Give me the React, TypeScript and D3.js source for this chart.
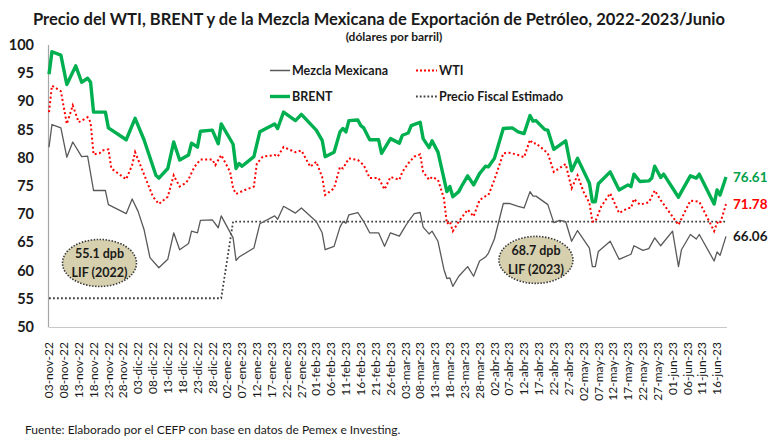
import React from "react";
import * as d3 from "d3";

const tickLabels = [
  "03-nov-22","08-nov-22","13-nov-22","18-nov-22","23-nov-22","28-nov-22",
  "03-dic-22","08-dic-22","13-dic-22","18-dic-22","23-dic-22","28-dic-22",
  "02-ene-23","07-ene-23","12-ene-23","17-ene-23","22-ene-23","27-ene-23",
  "01-feb-23","06-feb-23","11-feb-23","16-feb-23","21-feb-23","26-feb-23",
  "03-mar-23","08-mar-23","13-mar-23","18-mar-23","23-mar-23","28-mar-23",
  "02-abr-23","07-abr-23","12-abr-23","17-abr-23","22-abr-23","27-abr-23",
  "02-may-23","07-may-23","12-may-23","17-may-23","22-may-23","27-may-23",
  "01-jun-23","06-jun-23","11-jun-23","16-jun-23",
];
const yTicks = [50, 55, 60, 65, 70, 75, 80, 85, 90, 95, 100];

const brent: [string, number][] = [
  ["2022-11-03",94.8],["2022-11-04",98.8],["2022-11-07",98.2],["2022-11-09",93.0],["2022-11-12",96.3],
  ["2022-11-14",93.4],["2022-11-16",94.1],["2022-11-17",93.4],["2022-11-18",88.1],["2022-11-22",88.1],
  ["2022-11-23",85.3],["2022-11-29",83.2],["2022-12-02",87.0],["2022-12-05",83.2],["2022-12-09",76.9],
  ["2022-12-10",76.4],["2022-12-13",78.1],["2022-12-15",82.8],["2022-12-17",79.6],["2022-12-20",80.5],
  ["2022-12-21",82.6],["2022-12-23",81.9],["2022-12-24",84.7],["2022-12-28",84.9],["2022-12-30",82.5],
  ["2022-12-31",86.0],["2023-01-04",82.4],["2023-01-05",78.1],["2023-01-06",79.0],["2023-01-07",78.5],
  ["2023-01-11",80.2],["2023-01-13",84.6],["2023-01-18",86.0],["2023-01-19",85.2],["2023-01-21",88.1],
  ["2023-01-25",86.6],["2023-01-27",87.7],["2023-02-01",84.9],["2023-02-03",83.1],["2023-02-04",80.2],
  ["2023-02-07",81.0],["2023-02-09",84.6],["2023-02-10",85.2],["2023-02-11",84.6],["2023-02-12",86.6],
  ["2023-02-15",86.7],["2023-02-16",85.7],["2023-02-17",85.3],["2023-02-19",83.2],["2023-02-22",83.2],
  ["2023-02-23",80.8],["2023-02-26",83.4],["2023-03-01",82.6],["2023-03-02",84.0],["2023-03-04",84.4],
  ["2023-03-05",85.7],["2023-03-07",86.1],["2023-03-08",86.3],["2023-03-09",83.4],["2023-03-11",81.8],
  ["2023-03-12",83.0],["2023-03-14",81.0],["2023-03-17",74.0],["2023-03-18",74.9],["2023-03-19",73.1],
  ["2023-03-21",74.0],["2023-03-22",75.0],["2023-03-24",76.8],["2023-03-26",75.2],["2023-03-28",77.2],
  ["2023-03-30",78.5],["2023-03-31",78.4],["2023-04-02",79.9],["2023-04-05",85.2],["2023-04-08",85.3],
  ["2023-04-10",84.6],["2023-04-12",84.3],["2023-04-14",87.5],["2023-04-15",86.5],["2023-04-16",86.6],
  ["2023-04-19",85.0],["2023-04-20",84.9],["2023-04-22",81.5],["2023-04-26",83.0],["2023-04-28",77.7],
  ["2023-04-30",79.9],["2023-05-04",75.5],["2023-05-05",72.2],["2023-05-06",72.2],["2023-05-07",75.4],
  ["2023-05-11",77.5],["2023-05-14",74.3],["2023-05-17",75.2],["2023-05-18",74.9],["2023-05-19",77.1],
  ["2023-05-21",75.8],["2023-05-24",75.9],["2023-05-25",76.4],["2023-05-26",78.5],["2023-05-28",76.5],
  ["2023-05-29",77.1],["2023-06-03",73.0],["2023-06-04",74.0],["2023-06-07",76.8],["2023-06-09",76.4],
  ["2023-06-10",77.1],["2023-06-15",71.8],["2023-06-16",74.3],["2023-06-17",73.4],["2023-06-19",76.61],
];

const wti: [string, number][] = [
  ["2022-11-03",88.1],["2022-11-04",92.8],["2022-11-07",91.8],["2022-11-09",86.0],["2022-11-11",89.3],
  ["2022-11-13",86.3],["2022-11-16",87.2],["2022-11-17",86.3],["2022-11-18",80.6],["2022-11-20",80.8],
  ["2022-11-21",81.3],["2022-11-23",81.5],["2022-11-24",78.1],["2022-11-29",76.2],["2022-12-01",78.7],
  ["2022-12-02",81.0],["2022-12-04",78.4],["2022-12-08",73.1],["2022-12-10",71.8],["2022-12-13",73.1],
  ["2022-12-15",76.9],["2022-12-17",74.9],["2022-12-19",75.5],["2022-12-20",76.2],["2022-12-22",78.4],
  ["2022-12-24",79.7],["2022-12-28",79.7],["2022-12-29",78.7],["2022-12-31",80.5],["2023-01-03",77.5],
  ["2023-01-04",74.6],["2023-01-05",73.6],["2023-01-08",74.3],["2023-01-11",74.9],["2023-01-12",79.0],
  ["2023-01-14",80.2],["2023-01-18",80.5],["2023-01-19",80.2],["2023-01-21",81.9],["2023-01-25",81.0],
  ["2023-01-27",81.3],["2023-01-30",78.4],["2023-02-01",79.3],["2023-02-03",76.6],["2023-02-04",73.4],
  ["2023-02-07",74.6],["2023-02-09",78.4],["2023-02-10",78.1],["2023-02-12",79.9],["2023-02-15",79.6],
  ["2023-02-17",78.7],["2023-02-19",76.4],["2023-02-22",76.4],["2023-02-24",74.4],["2023-02-26",76.6],
  ["2023-03-01",76.1],["2023-03-02",77.5],["2023-03-04",79.0],["2023-03-06",80.2],["2023-03-08",80.6],
  ["2023-03-09",77.5],["2023-03-11",76.1],["2023-03-12",76.6],["2023-03-14",76.1],["2023-03-16",72.8],
  ["2023-03-17",68.3],["2023-03-18",68.7],["2023-03-19",67.0],["2023-03-21",68.7],["2023-03-24",70.8],
  ["2023-03-26",69.6],["2023-03-28",72.5],["2023-03-30",73.2],["2023-03-31",73.4],["2023-04-02",76.1],
  ["2023-04-05",80.8],["2023-04-07",80.9],["2023-04-10",80.5],["2023-04-12",80.1],["2023-04-14",83.2],
  ["2023-04-15",82.5],["2023-04-16",82.6],["2023-04-20",80.8],["2023-04-22",77.5],["2023-04-26",78.9],
  ["2023-04-28",74.6],["2023-04-30",76.9],["2023-05-02",74.0],["2023-05-04",72.0],["2023-05-05",68.7],
  ["2023-05-06",68.7],["2023-05-08",71.4],["2023-05-11",73.7],["2023-05-14",70.2],["2023-05-17",71.1],
  ["2023-05-18",71.1],["2023-05-19",72.7],["2023-05-21",71.7],["2023-05-24",72.1],["2023-05-26",74.2],
  ["2023-05-28",72.5],["2023-06-03",68.1],["2023-06-07",72.4],["2023-06-10",72.2],["2023-06-15",67.0],
  ["2023-06-16",68.5],["2023-06-17",68.3],["2023-06-19",71.78],
];

const mezcla: [string, number][] = [
  ["2022-11-03",81.9],["2022-11-04",85.9],["2022-11-07",85.3],["2022-11-09",80.1],["2022-11-11",82.8],
  ["2022-11-14",80.2],["2022-11-16",80.3],["2022-11-18",74.2],["2022-11-22",74.2],["2022-11-23",71.7],
  ["2022-11-29",70.1],["2022-12-01",72.7],["2022-12-03",70.5],["2022-12-05",67.3],["2022-12-07",62.3],
  ["2022-12-10",60.5],["2022-12-13",62.0],["2022-12-15",66.7],["2022-12-17",63.7],["2022-12-20",64.8],
  ["2022-12-21",67.0],["2022-12-23",66.7],["2022-12-24",68.9],["2022-12-28",69.0],["2022-12-30",67.6],
  ["2022-12-31",69.7],["2023-01-04",65.8],["2023-01-05",61.8],["2023-01-06",62.4],["2023-01-11",64.0],
  ["2023-01-13",68.3],["2023-01-18",69.7],["2023-01-19",69.1],["2023-01-21",71.4],["2023-01-25",70.2],
  ["2023-01-27",71.1],["2023-02-01",68.7],["2023-02-03",66.7],["2023-02-04",63.7],["2023-02-07",64.3],
  ["2023-02-09",67.7],["2023-02-10",68.7],["2023-02-11",68.4],["2023-02-12",69.9],["2023-02-15",70.3],
  ["2023-02-17",68.7],["2023-02-19",66.7],["2023-02-22",66.7],["2023-02-24",64.3],["2023-02-26",66.7],
  ["2023-03-01",66.1],["2023-03-02",67.0],["2023-03-04",68.7],["2023-03-06",70.1],["2023-03-08",70.3],
  ["2023-03-09",67.7],["2023-03-11",66.5],["2023-03-12",67.0],["2023-03-14",65.2],["2023-03-16",60.2],
  ["2023-03-17",58.6],["2023-03-18",58.7],["2023-03-19",57.2],["2023-03-21",59.0],["2023-03-24",60.7],
  ["2023-03-26",59.0],["2023-03-28",61.7],["2023-03-30",62.4],["2023-03-31",63.1],["2023-04-02",65.6],
  ["2023-04-05",71.9],["2023-04-07",71.9],["2023-04-10",71.4],["2023-04-12",71.1],["2023-04-14",74.0],
  ["2023-04-15",73.2],["2023-04-16",73.2],["2023-04-20",71.7],["2023-04-22",68.5],["2023-04-24",68.9],
  ["2023-04-26",68.7],["2023-04-28",65.2],["2023-04-30",67.1],["2023-05-04",64.0],["2023-05-05",60.7],
  ["2023-05-06",60.7],["2023-05-07",63.4],["2023-05-11",65.2],["2023-05-14",62.0],["2023-05-18",62.9],
  ["2023-05-19",64.4],["2023-05-22",63.6],["2023-05-24",63.9],["2023-05-26",65.8],["2023-05-28",64.4],
  ["2023-06-01",67.0],["2023-06-03",60.7],["2023-06-04",63.7],["2023-06-07",66.4],["2023-06-09",65.6],
  ["2023-06-10",66.4],["2023-06-15",61.7],["2023-06-16",63.3],["2023-06-17",62.7],["2023-06-19",66.06],
];

const precioFiscal: [string, number][] = [
  ["2022-11-03",55.1],["2022-12-31",55.1],["2023-01-04",68.7],["2023-06-19",68.7],
];

const endLabels = [
  { text: "76.61", value: 76.61, color: "#00A04A" },
  { text: "71.78", value: 71.78, color: "#FF0000" },
  { text: "66.06", value: 66.06, color: "#1a1a1a" },
];

const annotations = [
  { date: "2022-11-20", value: 61.35, line1: "55.1 dpb", line2: "LIF (2022)" },
  { date: "2023-04-16", value: 61.9, line1: "68.7 dpb", line2: "LIF (2023)" },
];

const monthMap: Record<string, number> = { ene: 0, feb: 1, mar: 2, abr: 3, may: 4, jun: 5, jul: 6, ago: 7, sep: 8, oct: 9, nov: 10, dic: 11 };
const parseLabel = (s: string) => {
  const [dd, mm, yy] = s.split("-");
  return new Date(2000 + +yy, monthMap[mm], +dd);
};
const parseISO = d3.timeParse("%Y-%m-%d");

const FONT = "Lato, 'Open Sans', sans-serif";

export default function App() {
  const W = 768, H = 437;
  const x = d3.scaleTime()
    .domain([parseISO("2022-11-03") as Date, parseISO("2023-06-19") as Date])
    .range([49, 726]);
  const y = d3.scaleLinear().domain([50, 100]).range([327, 45]);
  const line = d3.line<[string, number]>()
    .x((d) => x(parseISO(d[0]) as Date))
    .y((d) => y(d[1]));

  return (
    <svg width={W} height={H} style={{ position: "absolute", left: 0, top: 0, background: "#fff" }} fontFamily={FONT}>
      <rect width={W} height={H} fill="#fff" />
      <text x={379} y={25} textAnchor="middle" fontSize={17} fontWeight={700} fill="#1a1a1a" textLength={692} lengthAdjust="spacingAndGlyphs">
        Precio del WTI, BRENT y de la Mezcla Mexicana de Exportación de Petróleo, 2022-2023/Junio
      </text>
      <text x={394} y={41} textAnchor="middle" fontSize={12} fontWeight={700} fill="#1a1a1a">(dólares por barril)</text>

      {/* axes */}
      <line x1={48.5} x2={48.5} y1={45} y2={327} stroke="#a6a6a6" strokeWidth={1.2} />
      <line x1={48.5} x2={727} y1={327.5} y2={327.5} stroke="#c8c8c8" strokeWidth={1.2} />
      {yTicks.map((t) => (
        <text key={t} x={34} y={y(t)} dy="0.35em" textAnchor="end" fontSize={14.5} fontWeight={700} fill="#1a1a1a">{t}</text>
      ))}
      {tickLabels.map((l) => {
        const xp = x(parseLabel(l));
        return (
          <text key={l} transform={`translate(${xp},342) rotate(-90)`} dy="0.35em" textAnchor="end" fontSize={12} fill="#1a1a1a">{l}</text>
        );
      })}

      {/* series */}
      <path d={line(precioFiscal) || ""} fill="none" stroke="#404040" strokeWidth={1.8} strokeDasharray="1.8 2.2" />
      <path d={line(mezcla) || ""} fill="none" stroke="#595959" strokeWidth={1.3} strokeLinejoin="round" />
      <path d={line(wti) || ""} fill="none" stroke="#FF0000" strokeWidth={2} strokeDasharray="2 2.5" />
      <path d={line(brent) || ""} fill="none" stroke="#00B050" strokeWidth={3.4} strokeLinejoin="round" />

      {/* annotations */}
      {annotations.map((a) => {
        const cx = x(parseISO(a.date) as Date), cy = y(a.value);
        return (
          <g key={a.line1}>
            <ellipse cx={cx} cy={cy} rx={37} ry={23.5} fill="#D6D0AE" stroke="#3a3a3a" strokeWidth={1.6} strokeDasharray="1.5 1.5" />
            <text x={cx} y={cy - 5} textAnchor="middle" fontSize={12.5} fontWeight={700} fill="#1a1a1a">{a.line1}</text>
            <text x={cx} y={cy + 14} textAnchor="middle" fontSize={12.5} fontWeight={700} fill="#1a1a1a">{a.line2}</text>
          </g>
        );
      })}

      {/* end labels */}
      {endLabels.map((e) => (
        <text key={e.text} x={733} y={y(e.value)} dy="0.35em" fontSize={13.5} fontWeight={700} fill={e.color}>{e.text}</text>
      ))}

      {/* legend */}
      <g fontSize={12.5} fontWeight={700} fill="#1a1a1a">
        <line x1={270} x2={290} y1={70.5} y2={70.5} stroke="#595959" strokeWidth={1.5} />
        <text x={292} y={70.5} dy="0.35em">Mezcla Mexicana</text>
        <line x1={416} x2={437} y1={70.5} y2={70.5} stroke="#FF0000" strokeWidth={2} strokeDasharray="2 2" />
        <text x={439} y={70.5} dy="0.35em">WTI</text>
        <line x1={270} x2={290} y1={96.5} y2={96.5} stroke="#00B050" strokeWidth={3.4} />
        <text x={292} y={96.5} dy="0.35em">BRENT</text>
        <line x1={416} x2={437} y1={96.5} y2={96.5} stroke="#404040" strokeWidth={1.8} strokeDasharray="1.8 2" />
        <text x={439} y={96.5} dy="0.35em">Precio Fiscal Estimado</text>
      </g>

      <text x={25} y={434} fontSize={12} fill="#1a1a1a">Fuente: Elaborado por el CEFP con base en datos de Pemex e Investing.</text>
    </svg>
  );
}
